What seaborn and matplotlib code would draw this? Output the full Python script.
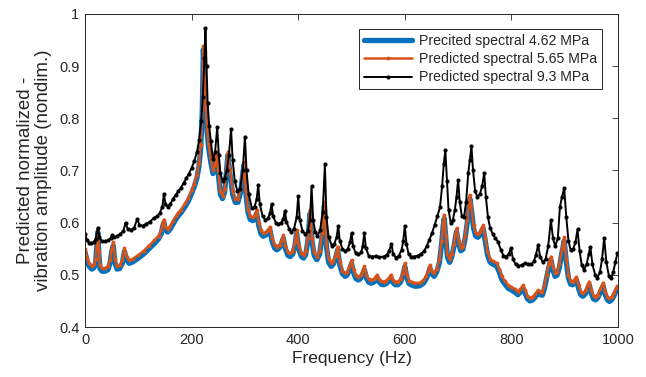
import matplotlib
matplotlib.use("Agg")
import matplotlib.pyplot as plt
import matplotlib.ticker as mticker
import seaborn as sns

sns.set_style("white")
plt.rcParams["font.family"] = ["Liberation Sans", "DejaVu Sans"]

# Black curve (9.3 MPa)
black_hz = [0, 4, 8, 12, 16, 20, 24, 27, 32, 38,
            44, 48, 51, 55, 60, 66, 72, 76, 80, 86,
            92, 98, 102, 108, 115, 122, 129, 135, 140, 145,
            148, 151, 155, 160, 165, 170, 175, 180, 185, 190,
            195, 200, 205, 210, 214, 218, 221, 224, 226, 228,
            230, 233, 236, 240, 244, 248, 251, 254, 258, 262,
            266, 270, 274, 277, 281, 286, 291, 296, 300, 303,
            307, 313, 318, 322, 325, 328, 333, 338, 343, 347,
            350, 353, 358, 363, 368, 372, 375, 378, 383, 387,
            392, 397, 400, 403, 408, 413, 418, 422, 425, 428,
            432, 436, 441, 446, 450, 453, 457, 463, 468, 472,
            475, 478, 483, 488, 493, 497, 500, 503, 508, 513,
            518, 521, 524, 527, 532, 538, 545, 552, 560, 566,
            570, 575, 578, 583, 589, 594, 597, 600, 603, 607,
            612, 618, 624, 630, 636, 641, 646, 651, 656, 661,
            666, 670, 673, 676, 679, 682, 686, 690, 694, 697,
            700, 703, 707, 711, 715, 719, 722, 725, 728, 732,
            736, 741, 745, 749, 752, 756, 760, 765, 770, 775,
            780, 785, 790, 795, 799, 803, 808, 813, 819, 825,
            831, 837, 842, 846, 850, 854, 859, 864, 869, 874,
            878, 882, 887, 891, 895, 899, 903, 907, 911, 916,
            920, 924, 928, 932, 936, 941, 945, 948, 952, 957,
            961, 966, 970, 974, 978, 983, 987, 991, 995, 999]
black_amp = [0.578, 0.566, 0.561, 0.561, 0.563, 0.568, 0.590, 0.572, 0.564, 0.564,
             0.566, 0.570, 0.576, 0.572, 0.574, 0.578, 0.584, 0.600, 0.588, 0.586,
             0.590, 0.607, 0.596, 0.594, 0.598, 0.602, 0.609, 0.612, 0.618, 0.630,
             0.655, 0.636, 0.630, 0.636, 0.645, 0.653, 0.660, 0.667, 0.676, 0.685,
             0.694, 0.705, 0.718, 0.736, 0.758, 0.795, 0.840, 0.915, 0.973, 0.900,
             0.830, 0.785, 0.757, 0.722, 0.735, 0.783, 0.730, 0.695, 0.680, 0.686,
             0.700, 0.730, 0.780, 0.720, 0.680, 0.660, 0.665, 0.700, 0.765, 0.700,
             0.655, 0.628, 0.630, 0.645, 0.672, 0.635, 0.613, 0.605, 0.608, 0.618,
             0.636, 0.612, 0.600, 0.597, 0.600, 0.607, 0.623, 0.602, 0.588, 0.582,
             0.588, 0.610, 0.651, 0.605, 0.584, 0.578, 0.584, 0.605, 0.670, 0.605,
             0.582, 0.575, 0.585, 0.620, 0.712, 0.610, 0.572, 0.556, 0.560, 0.572,
             0.594, 0.565, 0.550, 0.545, 0.550, 0.562, 0.580, 0.555, 0.541, 0.539,
             0.543, 0.555, 0.580, 0.552, 0.537, 0.535, 0.536, 0.534, 0.535, 0.538,
             0.545, 0.559, 0.540, 0.533, 0.537, 0.548, 0.565, 0.594, 0.560, 0.540,
             0.535, 0.535, 0.537, 0.540, 0.545, 0.555, 0.567, 0.580, 0.596, 0.612,
             0.630, 0.670, 0.712, 0.739, 0.680, 0.625, 0.600, 0.605, 0.625, 0.650,
             0.682, 0.640, 0.612, 0.610, 0.640, 0.695, 0.720, 0.746, 0.700, 0.660,
             0.650, 0.655, 0.670, 0.695, 0.650, 0.610, 0.590, 0.578, 0.570, 0.563,
             0.548, 0.537, 0.535, 0.540, 0.551, 0.530, 0.520, 0.517, 0.519, 0.522,
             0.520, 0.520, 0.526, 0.538, 0.557, 0.535, 0.524, 0.530, 0.555, 0.605,
             0.570, 0.555, 0.570, 0.630, 0.650, 0.666, 0.610, 0.565, 0.548, 0.550,
             0.562, 0.587, 0.545, 0.518, 0.510, 0.520, 0.540, 0.554, 0.520, 0.500,
             0.494, 0.505, 0.530, 0.571, 0.525, 0.497, 0.494, 0.505, 0.525, 0.541]

# Orange (5.65 MPa) and blue (4.62 MPa) curves share the same frequencies
orange_hz = [0, 4, 8, 13, 17, 20, 22, 24, 26, 28,
             32, 38, 43, 47, 50, 53, 56, 60, 65, 70,
             74, 78, 83, 90, 100, 110, 120, 130, 138, 143,
             146, 148, 151, 155, 160, 165, 170, 175, 180, 188,
             194, 200, 205, 210, 214, 217, 220, 222, 224, 226,
             229, 232, 236, 240, 244, 247, 250, 254, 258, 262,
             265, 268, 272, 277, 282, 287, 292, 295, 298, 302,
             306, 310, 315, 319, 322, 326, 330, 334, 339, 343,
             347, 351, 356, 360, 365, 369, 372, 376, 381, 385,
             390, 394, 397, 401, 406, 410, 414, 418, 422, 426,
             430, 435, 440, 445, 449, 453, 457, 462, 466, 470,
             474, 478, 483, 488, 492, 496, 500, 504, 508, 513,
             517, 521, 524, 528, 532, 537, 542, 545, 548, 552,
             556, 560, 565, 570, 574, 578, 582, 587, 592, 596,
             600, 604, 608, 614, 620, 628, 635, 640, 644, 647,
             651, 655, 660, 665, 669, 672, 674, 677, 680, 684,
             688, 692, 697, 701, 705, 709, 713, 717, 720, 722,
             725, 729, 733, 737, 741, 744, 747, 751, 755, 760,
             766, 772, 777, 782, 788, 794, 800, 806, 812, 817,
             822, 826, 830, 835, 840, 845, 850, 854, 858, 862,
             866, 870, 874, 878, 882, 886, 890, 895, 899, 903,
             907, 911, 915, 919, 922, 926, 930, 934, 939, 943,
             946, 950, 954, 958, 962, 967, 972, 976, 980, 984,
             988, 992, 996, 999]
orange_amp = [0.550, 0.532, 0.522, 0.517, 0.520, 0.530, 0.560, 0.589, 0.545, 0.518,
              0.513, 0.513, 0.516, 0.528, 0.550, 0.563, 0.530, 0.517, 0.518, 0.528,
              0.551, 0.535, 0.528, 0.531, 0.538, 0.546, 0.556, 0.566, 0.575, 0.585,
              0.600, 0.606, 0.592, 0.588, 0.594, 0.603, 0.612, 0.619, 0.625, 0.637,
              0.648, 0.662, 0.675, 0.692, 0.715, 0.748, 0.820, 0.939, 0.880, 0.830,
              0.780, 0.748, 0.722, 0.700, 0.710, 0.736, 0.700, 0.660, 0.652, 0.665,
              0.700, 0.736, 0.700, 0.660, 0.645, 0.645, 0.665, 0.690, 0.717, 0.660,
              0.625, 0.612, 0.610, 0.615, 0.624, 0.600, 0.585, 0.580, 0.582, 0.586,
              0.592, 0.570, 0.557, 0.554, 0.558, 0.566, 0.576, 0.556, 0.543, 0.541,
              0.546, 0.563, 0.586, 0.556, 0.541, 0.538, 0.545, 0.570, 0.624, 0.570,
              0.543, 0.535, 0.545, 0.580, 0.640, 0.560, 0.530, 0.522, 0.527, 0.537,
              0.554, 0.525, 0.508, 0.503, 0.506, 0.515, 0.528, 0.510, 0.499, 0.496,
              0.499, 0.507, 0.516, 0.500, 0.492, 0.490, 0.492, 0.496, 0.500, 0.492,
              0.488, 0.487, 0.489, 0.494, 0.500, 0.491, 0.487, 0.487, 0.492, 0.503,
              0.522, 0.500, 0.489, 0.486, 0.484, 0.485, 0.490, 0.498, 0.508, 0.519,
              0.508, 0.503, 0.512, 0.530, 0.565, 0.600, 0.615, 0.575, 0.540, 0.530,
              0.540, 0.560, 0.589, 0.565, 0.552, 0.555, 0.575, 0.605, 0.635, 0.653,
              0.630, 0.595, 0.580, 0.578, 0.582, 0.590, 0.595, 0.570, 0.545, 0.530,
              0.526, 0.523, 0.512, 0.497, 0.488, 0.480, 0.477, 0.473, 0.468, 0.473,
              0.480, 0.470, 0.460, 0.456, 0.458, 0.464, 0.471, 0.468, 0.467, 0.480,
              0.500, 0.520, 0.535, 0.515, 0.503, 0.506, 0.520, 0.550, 0.572, 0.530,
              0.500, 0.488, 0.487, 0.492, 0.496, 0.480, 0.468, 0.465, 0.470, 0.480,
              0.487, 0.470, 0.460, 0.458, 0.462, 0.473, 0.485, 0.468, 0.458, 0.455,
              0.458, 0.465, 0.474, 0.479]
blue_amp = [0.544, 0.526, 0.516, 0.511, 0.514, 0.524, 0.553, 0.582, 0.539, 0.512,
            0.507, 0.507, 0.510, 0.522, 0.544, 0.556, 0.524, 0.511, 0.512, 0.522,
            0.545, 0.529, 0.522, 0.525, 0.532, 0.540, 0.550, 0.560, 0.569, 0.579,
            0.594, 0.600, 0.586, 0.582, 0.588, 0.597, 0.606, 0.613, 0.619, 0.631,
            0.642, 0.656, 0.669, 0.686, 0.709, 0.742, 0.812, 0.932, 0.874, 0.824,
            0.774, 0.742, 0.716, 0.694, 0.704, 0.729, 0.694, 0.654, 0.646, 0.659,
            0.694, 0.729, 0.694, 0.654, 0.639, 0.639, 0.659, 0.684, 0.710, 0.654,
            0.619, 0.606, 0.604, 0.609, 0.618, 0.594, 0.579, 0.574, 0.576, 0.580,
            0.586, 0.564, 0.551, 0.548, 0.552, 0.560, 0.570, 0.550, 0.537, 0.535,
            0.540, 0.557, 0.580, 0.550, 0.535, 0.532, 0.539, 0.564, 0.617, 0.564,
            0.537, 0.529, 0.539, 0.574, 0.633, 0.554, 0.524, 0.516, 0.521, 0.531,
            0.548, 0.519, 0.502, 0.497, 0.500, 0.509, 0.522, 0.504, 0.493, 0.490,
            0.493, 0.501, 0.510, 0.494, 0.486, 0.484, 0.486, 0.490, 0.494, 0.486,
            0.482, 0.481, 0.483, 0.488, 0.494, 0.485, 0.481, 0.481, 0.486, 0.497,
            0.516, 0.494, 0.483, 0.480, 0.478, 0.479, 0.484, 0.492, 0.502, 0.513,
            0.502, 0.497, 0.506, 0.524, 0.559, 0.594, 0.608, 0.569, 0.534, 0.524,
            0.534, 0.554, 0.583, 0.559, 0.546, 0.549, 0.569, 0.599, 0.629, 0.646,
            0.624, 0.589, 0.574, 0.572, 0.576, 0.584, 0.589, 0.564, 0.539, 0.524,
            0.520, 0.517, 0.506, 0.491, 0.482, 0.474, 0.471, 0.467, 0.462, 0.467,
            0.474, 0.464, 0.454, 0.450, 0.452, 0.458, 0.465, 0.462, 0.461, 0.474,
            0.494, 0.514, 0.529, 0.509, 0.497, 0.500, 0.514, 0.544, 0.565, 0.524,
            0.494, 0.482, 0.481, 0.486, 0.490, 0.474, 0.462, 0.459, 0.464, 0.474,
            0.481, 0.464, 0.454, 0.452, 0.456, 0.467, 0.479, 0.462, 0.452, 0.449,
            0.452, 0.459, 0.468, 0.473]

labels = ["Precited spectral 4.62 MPa", "Predicted spectral 5.65 MPa",
          "Predicted spectral 9.3 MPa"]

fig = plt.figure(figsize=(6.46, 3.77), dpi=100)
ax = fig.add_axes([0.1316, 0.1326, 0.8251, 0.8303])

sns.lineplot(x=orange_hz, y=blue_amp, color="#0072BD", linewidth=3.8,
             label=labels[0], ax=ax)
sns.lineplot(x=orange_hz, y=orange_amp, color="#D95319", linewidth=1.8,
             marker=".", markersize=5.5, markeredgewidth=0, label=labels[1], ax=ax)
sns.lineplot(x=black_hz, y=black_amp, color="black", linewidth=1.4,
             marker=".", markersize=6, markeredgewidth=0, label=labels[2], ax=ax)

ax.set_xlim(0, 1000)
ax.set_ylim(0.4, 1.0)
ax.set_xticks(range(0, 1001, 200))
ax.set_yticks([0.4, 0.5, 0.6, 0.7, 0.8, 0.9, 1.0])
ax.yaxis.set_major_formatter(mticker.FuncFormatter(lambda v, p: f"{v:g}"))
ax.tick_params(direction="in", length=4, width=0.6, top=True, right=True,
               labelsize=10.5, colors="#262626", pad=4)
for s in ax.spines.values():
    s.set_color("#262626")
    s.set_linewidth(0.7)

ax.set_xlabel("Frequency (Hz)", fontsize=12.5, color="#262626", labelpad=3)
ax.set_ylabel("Predicted normalized -\nvibration amplitude (nondim.)",
              fontsize=13.5, color="#262626", linespacing=1.1, labelpad=5)

leg = ax.legend(loc="upper right", bbox_to_anchor=(0.97, 0.952),
                borderaxespad=0, fontsize=10.2, handlelength=3.4,
                labelspacing=0.3, frameon=True, fancybox=False,
                edgecolor="#262626", framealpha=1, borderpad=0.35,
                handletextpad=0.5)
leg.get_frame().set_linewidth(0.7)

plt.savefig("out.png", dpi=100)
